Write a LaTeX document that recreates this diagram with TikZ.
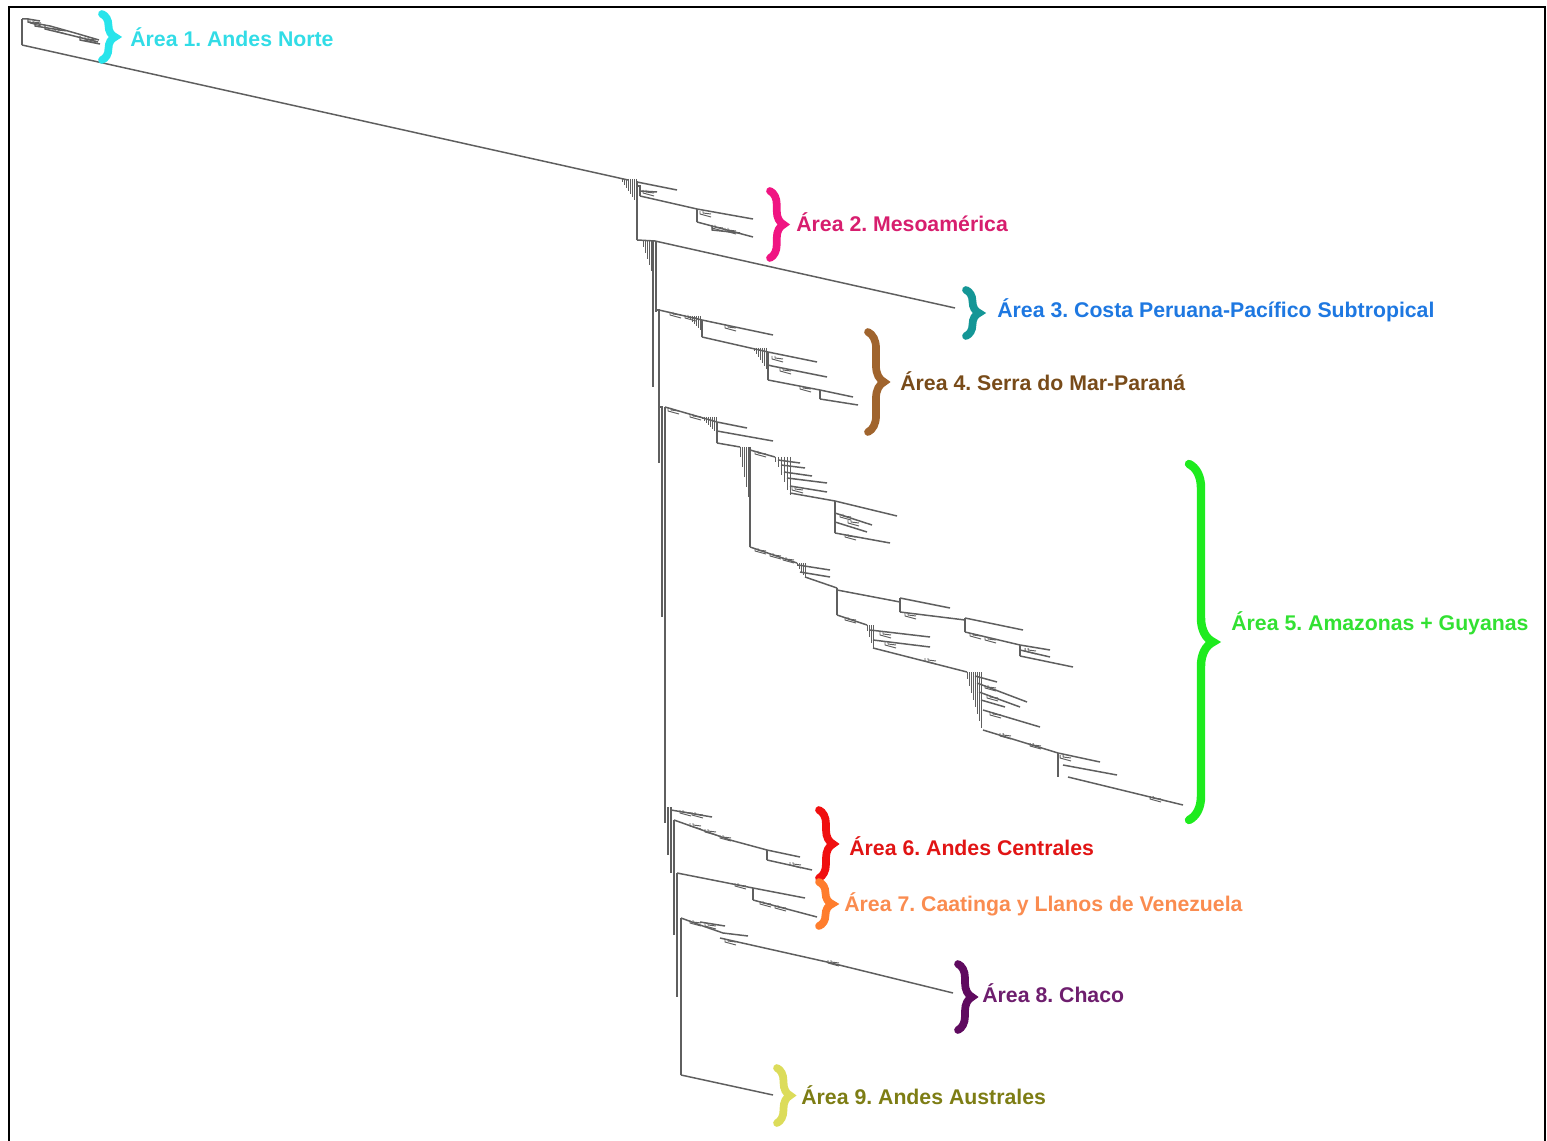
\documentclass[tikz,border=0pt]{standalone}
\usepackage{fontspec}
\setmainfont{Liberation Sans}
\frenchspacing
\usetikzlibrary{decorations.pathreplacing}
\definecolor{treegray}{RGB}{95,95,95}
\definecolor{bA}{RGB}{40,228,235}\definecolor{tA}{RGB}{50,220,230}
\definecolor{bB}{RGB}{240,20,130}\definecolor{tB}{RGB}{215,30,110}
\definecolor{bC}{RGB}{20,150,150}\definecolor{tC}{RGB}{30,120,225}
\definecolor{bD}{RGB}{160,100,45}\definecolor{tD}{RGB}{120,75,25}
\definecolor{bE}{RGB}{30,235,30}\definecolor{tE}{RGB}{50,225,50}
\definecolor{bF}{RGB}{240,15,15}\definecolor{tF}{RGB}{225,20,20}
\definecolor{bG}{RGB}{255,125,45}\definecolor{tG}{RGB}{250,140,80}
\definecolor{bH}{RGB}{95,10,95}\definecolor{tH}{RGB}{110,30,110}
\definecolor{bI}{RGB}{220,220,90}\definecolor{tI}{RGB}{125,125,20}
\tikzset{
  tr/.style={draw=treegray, line width=0.85pt},
  trh/.style={draw=treegray, line width=0.55pt},
  lbl/.style={anchor=base west, inner sep=0pt, font=\bfseries\fontsize{12.1}{14}\selectfont},
  brc/.style={decorate, decoration={brace, amplitude=#1}, line width=4.4pt, line cap=round},
}
\newcommand\hr[2]{\draw[trh] (#1,#2) -- ++(0,3) -- ++(11,3) (#1+3,#2) -- ++(0,2) -- ++(8,1);}
\newcommand\stairs[4]{\foreach \i in {1,...,#3} {\draw[trh] (#1+2*\i,#2) -- ++(0,#4*\i);}}
\begin{document}
\begin{tikzpicture}[x=0.02cm,y=-0.02cm]
\useasboundingbox (0,0) rectangle (1547,1141);
\clip (0,0) rectangle (1547,1141);
\draw[line width=1.3pt] (9,7) rectangle (1545,1170);

% ---------- root and Area 1
\draw[tr] (22,19) -- (22,45);
\draw[tr] (22,19) -- (28,19) -- (28,22) -- (50,26) -- (75,33) -- (99,40);
\draw[tr] (28,19) -- (40,21);
\draw[tr] (35,23) -- (35,26) -- (60,30);
\draw[tr] (45,26) -- (45,29) -- (70,35) -- (98,42);
\draw[tr] (80,36) -- (80,40) -- (100,44);
\hr{30}{20}\hr{55}{28}\hr{85}{37}
\draw[tr] (22,45) -- (628,180);

% ---------- top of trunk
\stairs{620}{179}{8}{3}
\draw[tr] (637,181) -- (637,240);
% Area 2
\draw[tr] (637,182) -- (677,190);
\draw[tr] (637,186) -- (640,186) -- (640,196);
\draw[tr] (640,191) -- (657,192);
\hr{643}{190}
\draw[tr] (640,196) -- (697,209);
\draw[tr] (697,209) -- (697,222);
\draw[tr] (697,209) -- (753,219);
\draw[tr] (697,222) -- (753,237);
\hr{700}{211}\hr{712}{225}\hr{725}{228}
\draw[tr] (712,226) -- (712,230) -- (740,233);

% Area 3
\draw[tr] (637,240) -- (655,241) -- (955,308);
\stairs{641}{241}{6}{6}
\draw[tr] (653,241) -- (653,387);
\draw[tr] (656,241) -- (656,312);

% Area 4
\draw[tr] (656,310) -- (659,310) -- (659,463);
\draw[tr] (659,310) -- (702,320);
\hr{670}{312}\hr{685}{315}
\stairs{686}{316}{7}{2}
\draw[tr] (702,320) -- (702,337);
\draw[tr] (702,320) -- (773,335);
\hr{725}{325}
\draw[tr] (702,337) -- (768,352);
\stairs{752}{348}{7}{3}
\draw[tr] (768,352) -- (768,380);
\draw[tr] (768,352) -- (817,362);
\hr{772}{356}
\draw[tr] (768,365) -- (772,366) -- (827,377);
\hr{780}{368}
\draw[tr] (768,380) -- (820,390);
\draw[tr] (820,390) -- (820,399);
\draw[tr] (820,390) -- (853,397);
\draw[tr] (820,399) -- (858,405);
\hr{800}{386}

% Area 5
\draw[tr] (659,407) -- (662,407) -- (662,617);
\draw[tr] (665,407) -- (665,823);
\draw[tr] (665,407) -- (717,422);
\hr{668}{408}\hr{690}{414}
\stairs{700}{417}{8}{2}
\draw[tr] (717,422) -- (717,443);
\draw[tr] (717,422) -- (747,428);
\draw[tr] (717,431) -- (773,441);
\draw[tr] (717,443) -- (740,447);
\stairs{738}{447}{5}{10}
\draw[tr] (750,447) -- (750,547);
% upper sub-clade
\draw[tr] (750,450) -- (775,457);
\hr{755}{451}
\foreach \xx/\yy in {775/462,778/467,781/475,784/482,787/490,790/495} {\draw[trh] (\xx,457) -- (\xx,\yy);}
\draw[tr] (778,460) -- (800,463);
\draw[tr] (781,465) -- (805,468);
\draw[tr] (784,472) -- (812,476);
\draw[tr] (787,478) -- (827,483);
\draw[tr] (790,486) -- (827,492);
\hr{792}{487}
\draw[tr] (790,493) -- (835,501);
\draw[tr] (835,501) -- (835,533);
\draw[tr] (835,501) -- (897,516);
\draw[tr] (835,513) -- (872,525);
\hr{840}{514}\hr{848}{520}
\draw[tr] (835,522) -- (867,532);
\draw[tr] (835,533) -- (890,543);
\hr{845}{534}
% lower sub-clade
\draw[tr] (750,547) -- (797,563);
\hr{755}{548}\hr{770}{553}\hr{783}{557}
\stairs{795}{563}{5}{3}
\draw[tr] (798,565) -- (830,570);
\draw[tr] (800,572) -- (830,577);
\draw[tr] (805,577) -- (837,588);
\draw[tr] (837,588) -- (837,615);
\draw[tr] (837,590) -- (900,602);
\draw[tr] (900,598) -- (900,612);
\draw[tr] (900,598) -- (950,608);
\draw[tr] (900,612) -- (965,620);
\hr{905}{613}
\draw[tr] (965,618) -- (965,632);
\draw[tr] (965,618) -- (1023,630);
\draw[tr] (965,632) -- (1020,645);
\hr{970}{633}\hr{985}{637}
\draw[tr] (1020,645) -- (1020,656);
\draw[tr] (1020,645) -- (1050,650);
\draw[tr] (1020,650) -- (1050,657);
\draw[tr] (1020,656) -- (1073,667);
\hr{1025}{648}
\draw[tr] (837,615) -- (867,625);
\hr{845}{617}
\stairs{865}{625}{4}{6}
\draw[tr] (870,630) -- (930,637);
\draw[tr] (873,640) -- (930,647);
\hr{880}{632}\hr{885}{642}
\draw[tr] (873,648) -- (967,672);
\hr{925}{658}
\stairs{965}{672}{8}{7}
\draw[tr] (975,676) -- (997,682);
\draw[tr] (977,683) -- (1027,702);
\draw[tr] (979,692) -- (1020,707);
\draw[tr] (981,700) -- (1005,707);
\draw[tr] (983,710) -- (1040,727);
\hr{985}{685}\hr{987}{695}\hr{990}{712}
\draw[tr] (983,730) -- (1058,753);
\hr{1000}{733}\hr{1030}{743}
\draw[tr] (1058,753) -- (1058,777);
\draw[tr] (1058,753) -- (1100,762);
\draw[tr] (1063,765) -- (1117,775);
\draw[tr] (1068,777) -- (1183,805);
\hr{1060}{755}\hr{1150}{796}

% lower trunk
\draw[tr] (668,807) -- (668,855);
\draw[tr] (671,807) -- (671,873);
\draw[tr] (674,820) -- (674,935);
\draw[tr] (677,873) -- (677,997);
\draw[tr] (681,918) -- (681,1075);

% Area 6
\draw[tr] (671,810) -- (712,817);
\hr{680}{810}\hr{692}{812}
\draw[tr] (674,820) -- (730,840) -- (767,850);
\hr{690}{823}\hr{705}{829}\hr{720}{835}
\draw[tr] (767,850) -- (767,860);
\draw[tr] (767,850) -- (800,857);
\draw[tr] (767,860) -- (812,870);
\hr{790}{862}

% Area 7
\draw[tr] (677,873) -- (753,888);
\hr{735}{883}
\draw[tr] (753,888) -- (753,900);
\draw[tr] (753,888) -- (805,898);
\draw[tr] (753,900) -- (817,917);
\hr{760}{901}\hr{775}{905}

% Area 8
\draw[tr] (681,918) -- (700,925) -- (723,933);
\draw[tr] (700,922) -- (725,926);
\hr{690}{920}\hr{705}{923}
\draw[tr] (723,933) -- (748,936);
\draw[tr] (720,938) -- (827,962) -- (953,993);
\hr{725}{939}\hr{828}{960}

% Area 9
\draw[tr] (681,1075) -- (773,1095);

% ---------- braces
\draw[brc=0.26cm, draw=bA] (102,14) -- (102,60);
\draw[brc=0.27cm, draw=bB] (770,191) -- (770,258);
\draw[brc=0.26cm, draw=bC] (966,290) -- (966,336);
\draw[brc=0.32cm, draw=bD] (868,332) -- (868,432);
\draw[brc=0.48cm, draw=bE, line width=4.8pt] (1189,464) -- (1189,820);
\draw[brc=0.28cm, draw=bF] (819,810) -- (819,878);
\draw[brc=0.26cm, draw=bG] (819,882) -- (819,926);
\draw[brc=0.28cm, draw=bH] (958,964) -- (958,1030);
\draw[brc=0.26cm, draw=bI] (777,1068) -- (777,1123);

% ---------- labels
\node[lbl, text=tA] (l1) at (130,47) {Área 1. Andes Norte};
\node[lbl, text=tB] (l2) at (796,232) {Área 2. Mesoamérica};
\node[lbl, text=tC] (l3) at (997,318) {Área 3. Costa Peruana-Pacífico Subtropical};
\node[lbl, text=tD] (l4) at (900,391) {Área 4. Serra do Mar-Paraná};
\node[lbl, text=tE] (l5) at (1231,630) {Área 5. Amazonas + Guyanas};
\node[lbl, text=tF] (l6) at (849,855) {Área 6. Andes Centrales};
\node[lbl, text=tG] (l7) at (844,911) {Área 7. Caatinga y Llanos de Venezuela};
\node[lbl, text=tH] (l8) at (982,1002) {Área 8. Chaco};
\node[lbl, text=tI] (l9) at (801,1104) {Área 9. Andes Australes};
\end{tikzpicture}
\end{document}
